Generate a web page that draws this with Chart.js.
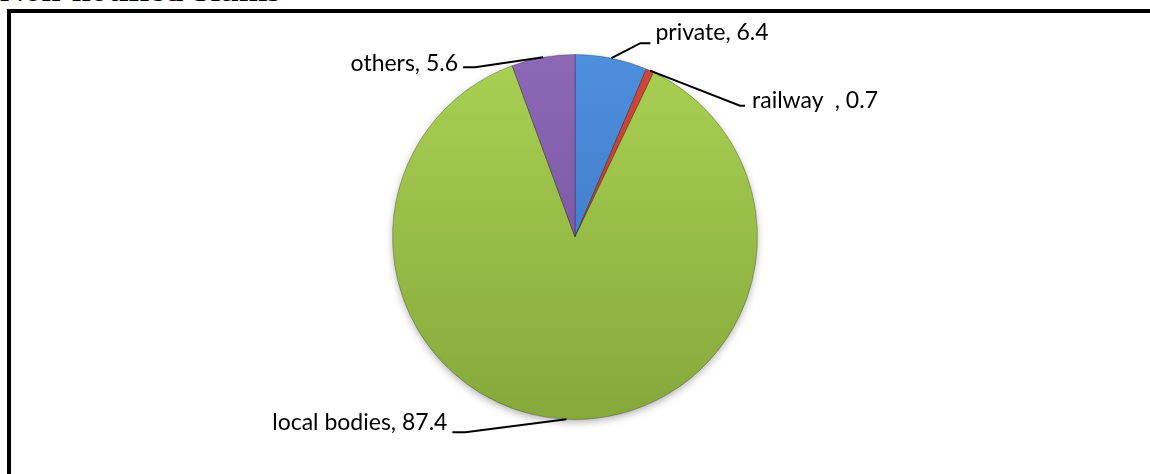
<!DOCTYPE html>
<html>
<head>
<meta charset="utf-8">
<script src="https://cdn.jsdelivr.net/npm/chart.js@4"></script>
<style>
  body { margin: 0; background: #fff; width: 1150px; height: 474px; overflow: hidden; position: relative; }
  #title { position: absolute; left: 0; top: -29px; font: bold 34px "Liberation Serif", serif; color: #000; white-space: nowrap; }
  #box { position: absolute; left: 7px; top: 9px; width: 1200px; height: 500px; border-left: 4px solid #000; border-top: 4px solid #000; }
  #wrap { position: absolute; left: 0; top: 0; width: 1150px; height: 474px; }
</style>
</head>
<body>
<div id="title">Non-notified Slums</div>
<div id="box"></div>
<div id="wrap"><canvas id="mychart-pie"></canvas></div>
<script>
// データ
const categories = ['private', 'railway\u00a0\u00a0', 'local bodies', 'others'];
const shares = [6.4, 0.7, 87.4, 5.6];

// 色 (上, 下)
const topColors = ['#4d8fdc', '#d2463c', '#a9d052', '#8c68b6'];
const bottomColors = ['#3a6fbd', '#b8322a', '#86a83c', '#6f4c9c'];

// ラベルの位置 (円弧の端からのずれ)
const labelStyle = [
  { ex: 29, ey: -15, hx: 10, tx: 5, ty: -11 },
  { ex: 90, ey: 35, hx: 5, tx: 7, ty: -5 },
  { ex: -101, ey: 13, hx: -13, tx: -5, ty: -10 },
  { ex: -68, ey: 10, hx: -12, tx: -5, ty: -4 }
];

const ctx = document.getElementById('mychart-pie');

function grad(c, i) {
  const area = c.chart.chartArea;
  if (!area) return topColors[i];
  const g = c.chart.ctx.createLinearGradient(0, area.top, 0, area.bottom);
  g.addColorStop(0, topColors[i]);
  g.addColorStop(1, bottomColors[i]);
  return g;
}

// 影
const shadowPlugin = {
  id: 'shadow',
  beforeDatasetsDraw(chart) {
    const arc = chart.getDatasetMeta(0).data[0];
    if (!arc) return;
    const c = chart.ctx;
    c.save();
    c.shadowColor = 'rgba(0,0,0,0.35)';
    c.shadowBlur = 8;
    c.shadowOffsetY = 3;
    c.fillStyle = '#86a83c';
    c.beginPath();
    c.arc(arc.x, arc.y, arc.outerRadius - 1, 0, Math.PI * 2);
    c.fill();
    c.restore();
  }
};

// ラベルと引き出し線
const labelPlugin = {
  id: 'leaders',
  afterDatasetsDraw(chart) {
    const c = chart.ctx;
    const meta = chart.getDatasetMeta(0);
    c.save();
    c.font = '23px Lato';
    c.textBaseline = 'middle';
    c.strokeStyle = '#000';
    c.lineWidth = 2;
    c.fillStyle = '#000';
    meta.data.forEach((arc, i) => {
      const p = arc.getProps(['x', 'y', 'startAngle', 'endAngle', 'outerRadius'], true);
      const mid = (p.startAngle + p.endAngle) / 2;
      const ax = p.x + Math.cos(mid) * p.outerRadius;
      const ay = p.y + Math.sin(mid) * p.outerRadius;
      const s = labelStyle[i];
      const ex = ax + s.ex, ey = ay + s.ey;
      const hx = ex + s.hx;
      c.beginPath();
      c.moveTo(ax, ay);
      c.lineTo(ex, ey);
      c.lineTo(hx, ey);
      c.stroke();
      c.textAlign = s.hx > 0 ? 'left' : 'right';
      c.fillText(categories[i] + ', ' + shares[i], hx + s.tx, ey + s.ty);
    });
    c.restore();
  }
};

const myChart = new Chart(ctx, {
  type: 'pie',
  data: {
    labels: categories,
    datasets: [{
      data: shares,
      backgroundColor: (c) => grad(c, c.dataIndex),
      borderColor: 'rgba(0,0,0,0.25)',
      borderWidth: 1
    }]
  },
  options: {
    responsive: true,
    maintainAspectRatio: false,
    animation: false,
    layout: { padding: { top: 54, bottom: 54 } },
    plugins: { legend: { display: false }, tooltip: { enabled: false } }
  },
  plugins: [shadowPlugin, labelPlugin]
});
</script>
</body>
</html>
